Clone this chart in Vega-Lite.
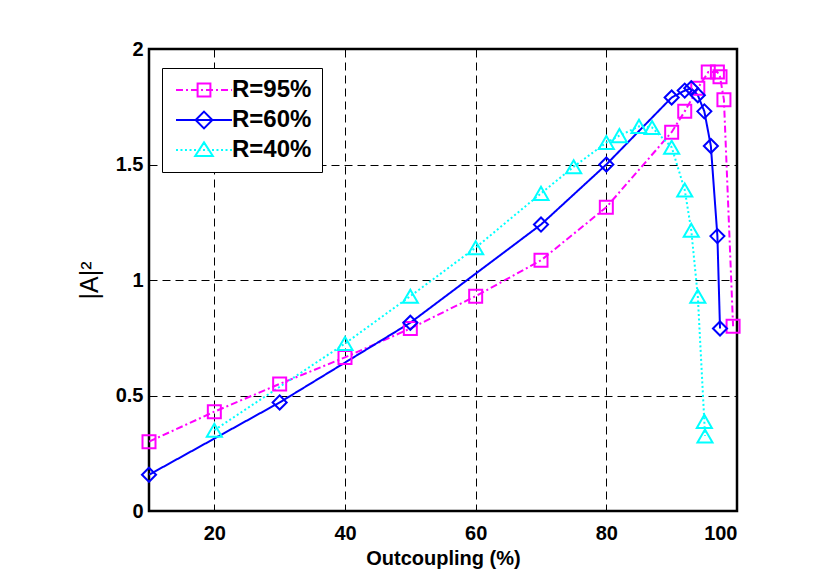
{
  "$schema": "https://vega.github.io/schema/vega-lite/v6.json",
  "autosize": "none",
  "width": 588,
  "height": 462,
  "padding": {"left": 149, "top": 49, "right": 94, "bottom": 75},
  "background": "white",
  "data": {"values": [
    {"s": "R=95%", "x": 10, "y": 0.30},
    {"s": "R=95%", "x": 20, "y": 0.43},
    {"s": "R=95%", "x": 30, "y": 0.55},
    {"s": "R=95%", "x": 40, "y": 0.665},
    {"s": "R=95%", "x": 50, "y": 0.79},
    {"s": "R=95%", "x": 60, "y": 0.93},
    {"s": "R=95%", "x": 70, "y": 1.085},
    {"s": "R=95%", "x": 80, "y": 1.315},
    {"s": "R=95%", "x": 90, "y": 1.64},
    {"s": "R=95%", "x": 92, "y": 1.73},
    {"s": "R=95%", "x": 94, "y": 1.83},
    {"s": "R=95%", "x": 95.6, "y": 1.90},
    {"s": "R=95%", "x": 97, "y": 1.90},
    {"s": "R=95%", "x": 97.4, "y": 1.88},
    {"s": "R=95%", "x": 98, "y": 1.78},
    {"s": "R=95%", "x": 99.4, "y": 0.80},
    {"s": "R=60%", "x": 10, "y": 0.157},
    {"s": "R=60%", "x": 30, "y": 0.47},
    {"s": "R=60%", "x": 50, "y": 0.815},
    {"s": "R=60%", "x": 70, "y": 1.24},
    {"s": "R=60%", "x": 80, "y": 1.50},
    {"s": "R=60%", "x": 90, "y": 1.79},
    {"s": "R=60%", "x": 92, "y": 1.82},
    {"s": "R=60%", "x": 93, "y": 1.83},
    {"s": "R=60%", "x": 94, "y": 1.80},
    {"s": "R=60%", "x": 95, "y": 1.73},
    {"s": "R=60%", "x": 96, "y": 1.58},
    {"s": "R=60%", "x": 97, "y": 1.19},
    {"s": "R=60%", "x": 97.4, "y": 0.79},
    {"s": "R=40%", "x": 20, "y": 0.35},
    {"s": "R=40%", "x": 40, "y": 0.725},
    {"s": "R=40%", "x": 50, "y": 0.93},
    {"s": "R=40%", "x": 60, "y": 1.14},
    {"s": "R=40%", "x": 70, "y": 1.375},
    {"s": "R=40%", "x": 75, "y": 1.49},
    {"s": "R=40%", "x": 80, "y": 1.595},
    {"s": "R=40%", "x": 82, "y": 1.625},
    {"s": "R=40%", "x": 85, "y": 1.665},
    {"s": "R=40%", "x": 87, "y": 1.66},
    {"s": "R=40%", "x": 90, "y": 1.575},
    {"s": "R=40%", "x": 92, "y": 1.39},
    {"s": "R=40%", "x": 93, "y": 1.215},
    {"s": "R=40%", "x": 94, "y": 0.93},
    {"s": "R=40%", "x": 95, "y": 0.388},
    {"s": "R=40%", "x": 95.1, "y": 0.325}
  ]},
  "transform": [{"calculate": "datum.s", "as": "k"}],
  "encoding": {
    "x": {"field": "x", "type": "quantitative", "scale": {"domain": [10, 100], "nice": false, "zero": false},
      "axis": {"values": [20, 40, 60, 80, 100], "title": "Outcoupling (%)", "labelPadding": 12, "titlePadding": 5}},
    "y": {"field": "y", "type": "quantitative", "scale": {"domain": [0, 2], "nice": false},
      "axis": {"values": [0, 0.5, 1, 1.5, 2], "labelExpr": "'' + datum.value", "title": "|A|²", "titleFontWeight": "normal", "titleFontSize": 25, "labelPadding": 6, "titlePadding": 13}},
    "color": {"field": "s", "type": "nominal",
      "scale": {"domain": ["R=95%", "R=60%", "R=40%"], "range": ["#ff00ff", "#0000ff", "#00ffff"]},
      "legend": {
        "title": null, "orient": "none", "legendX": 13, "legendY": 19,
        "strokeColor": "black", "fillColor": "white", "padding": 10,
        "labelFontSize": 24, "labelFont": "Liberation Sans", "labelFontWeight": "bold", "labelColor": "black",
        "symbolSize": 256, "symbolStrokeWidth": 2, "symbolOffset": 20, "labelOffset": 16, "rowPadding": 5,
        "labelLimit": 200,
        "encode": {"symbols": {"update": {
          "shape": {"signal": "datum.value === 'R=95%' ? 'M-3.5,0L-2.625,0M-2.25,0L-2,0M-1.625,0L-0.75,0M-0.375,0L-0.125,0M0.25,0L1.125,0M1.5,0L1.75,0M2.125,0L3,0M3.375,0L3.5,0M-0.8,-0.8L0.8,-0.8L0.8,0.8L-0.8,0.8Z' : datum.value === 'R=60%' ? 'M-3.5,0L3.5,0M0,-1.05L1.05,0L0,1.05L-1.05,0Z' : 'M-3.5,0L-3.25,0M-2.94,0L-2.69,0M-2.38,0L-2.13,0M-1.81,0L-1.56,0M-1.25,0L-1,0M-0.69,0L-0.44,0M-0.13,0L0.13,0M0.44,0L0.69,0M1,0L1.25,0M1.56,0L1.81,0M2.13,0L2.38,0M2.69,0L2.94,0M3.25,0L3.5,0M0,-0.95L1.1,0.75L-1.1,0.75Z'"},
          "size": {"value": 256},
          "fill": {"value": "transparent"},
          "strokeWidth": {"value": 2},
          "opacity": {"value": 1}
        }}}
      }
    }
  },
  "layer": [
    {
      "mark": {"type": "line", "strokeWidth": 2},
      "encoding": {
        "strokeDash": {"field": "k", "type": "nominal", "legend": null,
          "scale": {"domain": ["R=95%", "R=60%", "R=40%", "-"], "range": [[7, 3, 2, 3], [1, 0], [2, 2.5], [1, 0]]}}
      }
    },
    {
      "mark": {"type": "point", "filled": false, "strokeWidth": 2, "opacity": 1},
      "encoding": {
        "shape": {"field": "k", "type": "nominal", "legend": null,
          "scale": {"domain": ["R=95%", "R=60%", "R=40%", "-"], "range": ["square", "diamond", "triangle-up", "circle"]}},
        "size": {"field": "k", "type": "nominal", "legend": null,
          "scale": {"domain": ["R=95%", "R=60%", "R=40%", "-"], "range": [169, 256, 289, 100]}}
      }
    }
  ],
  "config": {
    "view": {"stroke": "black", "strokeWidth": 2.5, "fill": "white"},
    "axis": {
      "grid": true, "gridColor": "black", "gridDash": [8, 5], "gridWidth": 1, "gridOpacity": 1,
      "domain": false, "ticks": false,
      "labelFont": "Liberation Sans", "labelFontSize": 20, "labelFontWeight": "bold", "labelColor": "black",
      "titleFont": "Liberation Sans", "titleFontSize": 20, "titleFontWeight": "bold", "titleColor": "black"
    }
  }
}
